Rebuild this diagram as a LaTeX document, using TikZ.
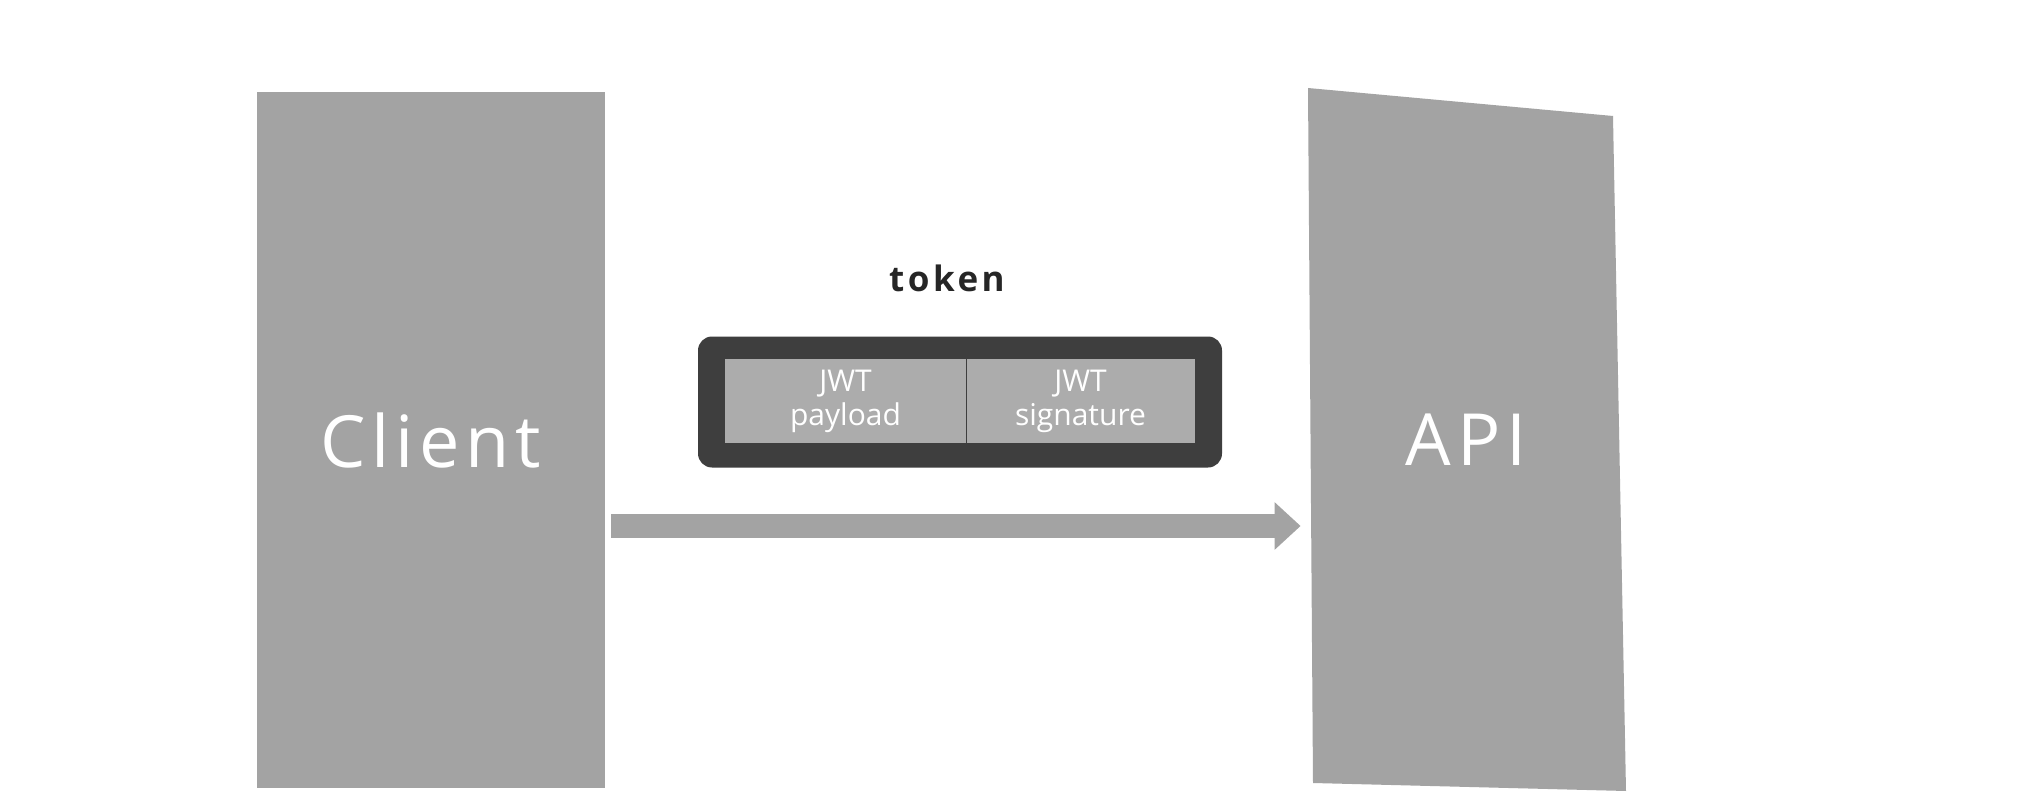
\documentclass[tikz,border=0pt]{standalone}
\usepackage{fontspec}
\setmainfont{Open Sans}
\usetikzlibrary{arrows.meta,calc}
\definecolor{boxgray}{RGB}{163,163,163}
\definecolor{cellgray}{RGB}{172,172,172}
\definecolor{darkframe}{RGB}{62,62,62}
\tikzset{
  bigbox/.style={fill=boxgray, draw=none, inner sep=0pt, text=white,
    font=\fontsize{36}{40}\selectfont\addfontfeature{LetterSpace=8}},
  cellbox/.style={fill=cellgray, draw=none, inner sep=0pt, text=white, align=center,
    minimum height=42pt, font=\fontsize{15}{17}\selectfont},
  framebox/.style={fill=darkframe, draw=none, rounded corners=7pt, inner sep=0pt,
    minimum width=262pt, minimum height=65.5pt},
  toklabel/.style={text=black!85, font=\bfseries\fontsize{17.5}{20}\selectfont\addfontfeature{LetterSpace=10}},
  bigarrow/.style={draw=boxgray, line width=12pt,
    -{Triangle[length=13pt,width=23pt]}}
}
\begin{document}
\begin{tikzpicture}[x=0.5pt,y=-0.5pt]
\useasboundingbox (0,0) rectangle (2026,808);
\fill[white] (0,0) rectangle (2026,808);
% Client
\node[bigbox, minimum width=174pt, minimum height=347.5pt] (client) at (431,440) {Client};
% API (slightly skewed shape as in the reference)
\fill[boxgray] (1308,88) -- (1613,116) -- (1626,791) -- (1313,783) -- cycle;
\node[inner sep=0pt, minimum width=155pt, minimum height=345pt, text=white,
  font=\fontsize{36}{40}\selectfont\addfontfeature{LetterSpace=8}] (api) at (1466,440) {API};
% token
\node[toklabel] (toklab) at (947,278) {token};
\node[framebox] (frame) at (960,402) {};
\node[cellbox, minimum width=120.5pt] (payload) at (845.5,401) {JWT\\payload};
\node[cellbox, minimum width=114.5pt] (signature) at (1080.5,401) {JWT\\signature};
\draw[darkframe, line width=0.8pt] (payload.north east) -- (payload.south east);
% arrow
\coordinate (ay) at (0,526);
\draw[bigarrow, shorten <=3pt, shorten >=5pt] (client.east |- ay) -- (api.west |- ay);
\end{tikzpicture}
\end{document}
